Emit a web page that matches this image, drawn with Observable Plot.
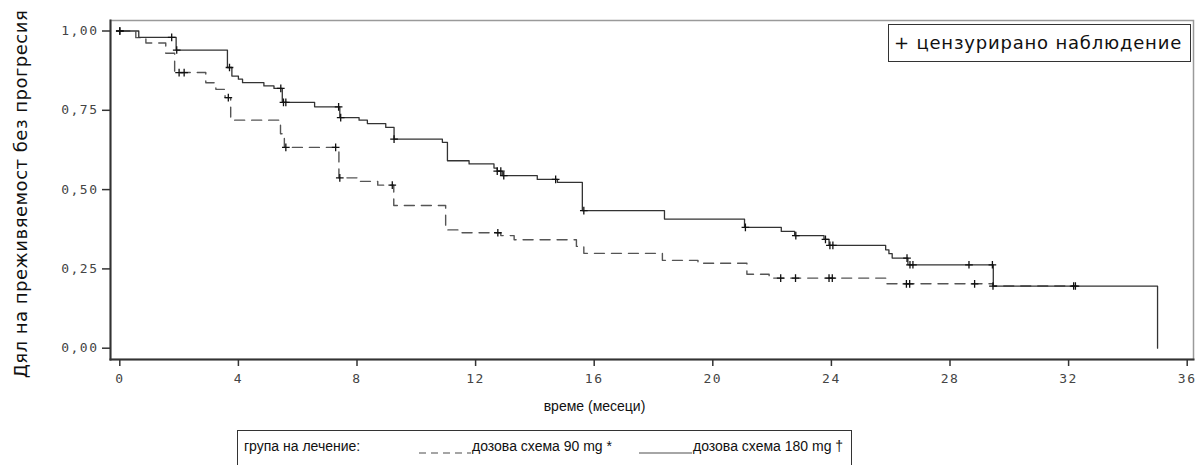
<!DOCTYPE html>
<html><head><meta charset="utf-8">
<script src="https://cdn.jsdelivr.net/npm/d3@7"></script>
<script src="https://cdn.jsdelivr.net/npm/@observablehq/plot@0.6"></script>
<style>
body{margin:0;background:#fff;}
#wrap{position:relative;width:1197px;height:465px;overflow:hidden;font-family:"DejaVu Sans",sans-serif;color:#111;}
#censor{position:absolute;left:888px;top:24px;width:303px;height:38px;border:1.5px solid #333;box-sizing:border-box;font-size:18px;letter-spacing:0.8px;line-height:35px;padding-left:5px;white-space:nowrap;}
#legend{position:absolute;left:237px;top:430px;width:615px;height:50px;border:1.5px solid #333;box-sizing:border-box;font-family:"Liberation Sans",sans-serif;font-size:14px;white-space:nowrap;}
#legend span, #legend svg{position:absolute;top:7px;}
g[aria-label="x-axis tick label"] text, g[aria-label="y-axis tick label"] text{letter-spacing:1.5px;}
</style>
</head><body>
<div id="wrap"><div id="chart"></div>
<div id="censor">+ цензурирано наблюдение</div>
<div id="legend"></div>
</div>
<script>
// ---- data ----
const groups = ["дозова схема 90 mg", "дозова схема 180 mg"];
const groupMarks = ["*", "†"];
const xTicks = [0, 4, 8, 12, 16, 20, 24, 28, 32, 36];
const yTicks = [0, 0.25, 0.5, 0.75, 1];

// 90 mg (dashed): step times and survival after each step
const t90 = [0, 0.54, 0.88, 1.55, 1.85, 2.9, 3.24, 3.55, 3.74, 5.42, 5.55, 7.39, 8.1, 8.7, 9.24, 10.99, 11.44, 12.85, 13.3, 15.4, 15.65, 18.3, 19.5, 21.15, 21.9, 25.83, 29.45, 32.2];
const s90 = [1.0, 0.979, 0.962, 0.93, 0.869, 0.837, 0.816, 0.79, 0.719, 0.676, 0.633, 0.537, 0.526, 0.514, 0.45, 0.373, 0.364, 0.355, 0.342, 0.321, 0.299, 0.277, 0.268, 0.233, 0.221, 0.203, 0.196, 0.196];
const cens90 = [0, 2.0, 2.17, 3.66, 5.6, 7.28, 7.42, 9.19, 12.75, 22.29, 22.79, 23.92, 24.03, 26.53, 26.64, 28.83, 29.45, 32.17];

// 180 mg (solid)
const t180 = [0, 0.64, 1.9, 3.63, 3.78, 4.0, 4.14, 4.86, 5.2, 5.48, 6.57, 7.42, 8.07, 8.35, 8.97, 9.25, 10.88, 11.05, 11.78, 12.62, 12.73, 12.9, 14.08, 14.76, 15.6, 18.37, 21.07, 22.31, 22.76, 23.75, 23.92, 25.83, 25.94, 26.05, 26.58, 29.46, 35.0];
const s180 = [1.0, 0.98, 0.94, 0.885, 0.858, 0.848, 0.837, 0.827, 0.819, 0.775, 0.761, 0.727, 0.719, 0.708, 0.696, 0.659, 0.649, 0.591, 0.581, 0.568, 0.558, 0.544, 0.532, 0.523, 0.434, 0.407, 0.381, 0.368, 0.355, 0.343, 0.324, 0.31, 0.298, 0.284, 0.263, 0.196, 0.0];
const cens180 = [0, 1.75, 1.92, 3.7, 5.43, 5.52, 5.6, 7.38, 7.45, 9.25, 12.73, 12.85, 12.95, 14.7, 15.65, 21.1, 22.8, 23.8, 23.95, 24.05, 26.55, 26.65, 26.75, 28.64, 29.43, 32.23];

// ---- build ----
function survAt(ts, ss, t) { let v = ss[0]; for (let i = 0; i < ts.length; i++) if (ts[i] <= t) v = ss[i]; return v; }
const rows90 = t90.map((t, i) => ({t, s: s90[i]}));
const rows180 = t180.map((t, i) => ({t, s: s180[i]}));
const censRows = [
  ...cens90.map(t => ({t, s: survAt(t90, s90, t)})),
  ...cens180.map(t => ({t, s: survAt(t180, s180, t)}))
];
const fmt = d => d3.format(".2f")(d).replace(".", ",");

const chart = Plot.plot({
  width: 1197, height: 425,
  marginTop: 20, marginLeft: 110, marginRight: 4, marginBottom: 66,
  style: {fontFamily: "DejaVu Sans Mono", fontSize: "13px", color: "#444", background: "#fff"},
  x: {domain: [0, 36], range: [119.3, 1186.7]},
  y: {domain: [0, 1], range: [347.7, 30.5]},
  marks: [
    Plot.frame({stroke: "#9a9a9a", strokeWidth: 1.5}),
    Plot.frame({anchor: "left", stroke: "#333", strokeWidth: 2}),
    Plot.frame({anchor: "bottom", stroke: "#333", strokeWidth: 2}),
    Plot.axisX({ticks: xTicks, tickSize: 7, tickPadding: 7, label: null, stroke: "#333", strokeWidth: 1.5}),
    Plot.axisY({ticks: yTicks, tickSize: 8, tickPadding: 4, tickFormat: fmt, label: null, stroke: "#333", strokeWidth: 1.5}),
    Plot.line(rows90, {x: "t", y: "s", curve: "step-after", stroke: "#555", strokeWidth: 1.4, strokeDasharray: "10,7"}),
    Plot.line(rows180, {x: "t", y: "s", curve: "step-after", stroke: "#333", strokeWidth: 1.3}),
    Plot.dot(censRows, {x: "t", y: "s", symbol: "plus", r: 2.6, stroke: "#111", strokeWidth: 1.3}),
    Plot.text(["време (месеци)"], {frameAnchor: "bottom-left", textAnchor: "middle", dx: 484, dy: 51, fontFamily: "Liberation Sans", fontSize: 14, fill: "#111"}),
    Plot.text(["Дял на преживяемост без прогресия"], {frameAnchor: "left", textAnchor: "middle", dx: -89, dy: 4, rotate: -90, fontFamily: "DejaVu Sans", fontSize: 18, fill: "#111"})
  ]
});
document.getElementById("chart").appendChild(chart);
chart.querySelectorAll('g[aria-label="text"] text').forEach(t => { if (t.textContent.startsWith("Дял")) t.setAttribute("letter-spacing", "0.5"); });

// legend
const lg = document.getElementById("legend");
lg.innerHTML = `
<span style="left:6px">група на лечение:</span>
<svg style="left:181px;top:9px" width="52" height="18"><line x1="0" x2="52" y1="13" y2="13" stroke="#888" stroke-width="1.5" stroke-dasharray="7,5"/></svg>
<span style="left:234px">${groups[0]} ${groupMarks[0]}</span>
<svg style="left:401px;top:9px" width="53" height="18"><line x1="0" x2="53" y1="13" y2="13" stroke="#888" stroke-width="1.5"/></svg>
<span style="left:455px">${groups[1]} ${groupMarks[1]}</span>`;
</script>
</body></html>
